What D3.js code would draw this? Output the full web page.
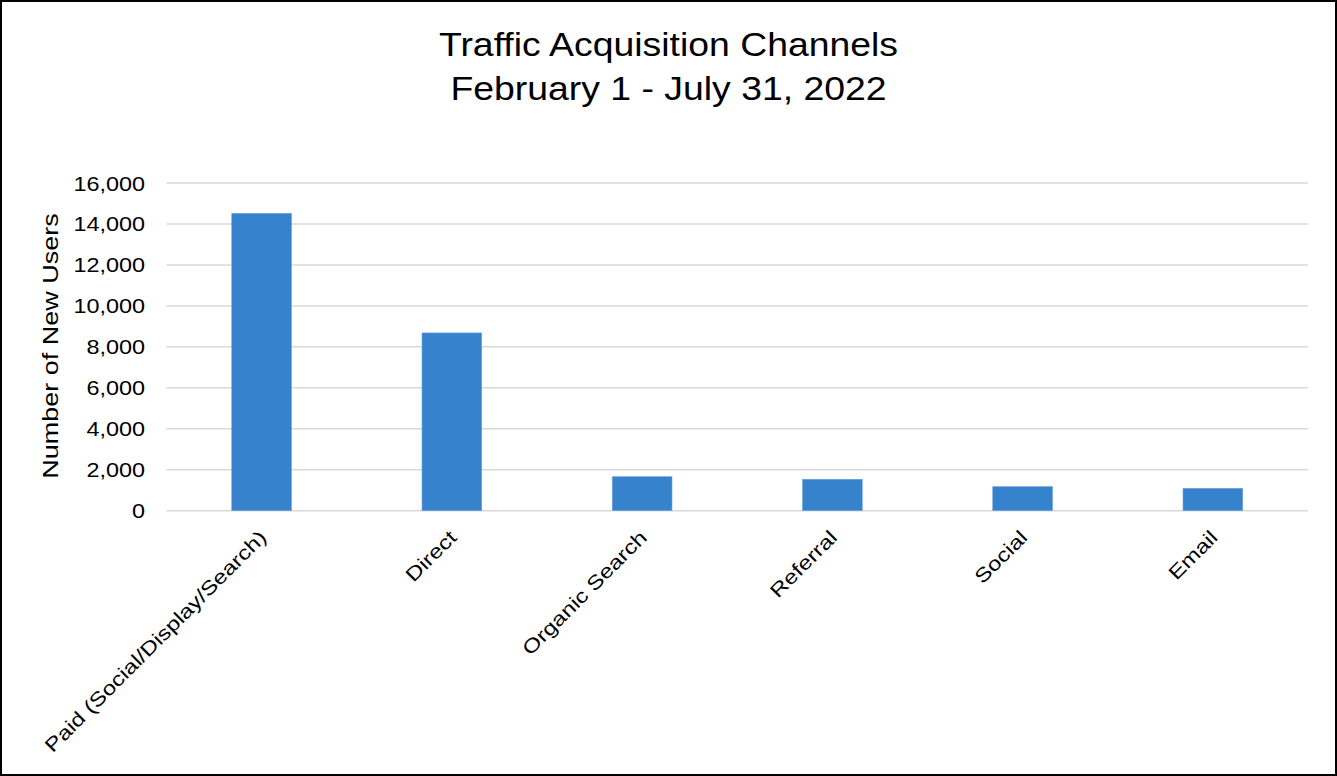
<!DOCTYPE html>
<html>
<head>
<meta charset="utf-8">
<script src="https://cdn.jsdelivr.net/npm/d3@7"></script>
<style>
  html, body { margin: 0; padding: 0; background: #fff; }
  svg { display: block; font-family: "Liberation Sans", Arial, sans-serif; }
</style>
</head>
<body>
<script>
const categories = ["Paid (Social/Display/Search)", "Direct", "Organic Search", "Referral", "Social", "Email"];
const newUsers = [14520, 8680, 1660, 1535, 1175, 1095];
const yTicks = [0, 2000, 4000, 6000, 8000, 10000, 12000, 14000, 16000];
const titleLines = ["Traffic Acquisition Channels", "February 1 - July 31, 2022"];
const yTitle = "Number of New Users";

const W = 1337, H = 776;
const plot = { left: 166.5, right: 1308, top: 183, bottom: 510.7 };
const FONT = "Liberation Sans, Arial, sans-serif";

const svg = d3.select("body").append("svg").attr("width", W).attr("height", H);
svg.append("rect").attr("x", 0).attr("y", 0).attr("width", W).attr("height", H).attr("fill", "#fff");

const x = d3.scaleBand().domain(categories)
  .range([plot.left, plot.right])
  .paddingInner(0.686).paddingOuter(0.343);
const y = d3.scaleLinear().domain([0, 16000]).range([plot.bottom, plot.top]);

// gridlines
svg.append("g").selectAll("line").data(yTicks).join("line")
  .attr("x1", plot.left).attr("x2", plot.right)
  .attr("y1", d => y(d)).attr("y2", d => y(d))
  .attr("stroke", "#d9d9d9").attr("stroke-width", 1.5);

// y axis labels
const yAxis = d3.axisLeft(y).tickValues(yTicks).tickSize(0).tickPadding(0)
  .tickFormat(d3.format(","));
const ya = svg.append("g").attr("transform", `translate(${plot.left},0)`).call(yAxis);
ya.select(".domain").remove();
ya.attr("font-size", null).attr("font-family", null);
ya.selectAll("text").attr("font-size", 19.5).attr("fill", "#000")
  .attr("font-family", FONT).attr("x", 0).attr("dy", "0.36em")
  .attr("transform", "translate(-21.5,0) scale(1.2,1)");

// bars
svg.append("g").selectAll("rect").data(categories).join("rect")
  .attr("x", d => x(d))
  .attr("width", x.bandwidth())
  .attr("y", (d, i) => y(newUsers[i]))
  .attr("height", (d, i) => y(0) - y(newUsers[i]))
  .attr("fill", "#3782cd")
  .attr("stroke", "#6fa3db").attr("stroke-width", 0.6);

// x labels
const xAxis = d3.axisBottom(x).tickSize(0).tickPadding(0);
const xa = svg.append("g").attr("transform", `translate(0,${plot.bottom})`).call(xAxis);
xa.select(".domain").remove();
xa.attr("font-size", null).attr("font-family", null);
xa.selectAll("text")
  .attr("font-size", 19.5).attr("fill", "#000")
  .attr("font-family", FONT)
  .attr("text-anchor", "end")
  .attr("y", 0).attr("dy", 0)
  .attr("transform", "translate(6,28) rotate(-45) scale(1.23,1)");

// title
svg.append("g").selectAll("text").data(titleLines).join("text")
  .attr("transform", (d, i) => `translate(668.5,${56.3 + i * 43.7}) scale(1.15,1)`)
  .attr("text-anchor", "middle").attr("font-size", 32.5).attr("fill", "#000")
  .text(d => d);

// y title
svg.append("text")
  .attr("transform", `translate(57.5,346) rotate(-90) scale(1.21,1)`)
  .attr("text-anchor", "middle").attr("font-size", 22.3).attr("fill", "#000")
  .text(yTitle);

// border
svg.append("rect").attr("x", 1).attr("y", 1).attr("width", W - 2).attr("height", H - 2)
  .attr("fill", "none").attr("stroke", "#000").attr("stroke-width", 2);
</script>
</body>
</html>
